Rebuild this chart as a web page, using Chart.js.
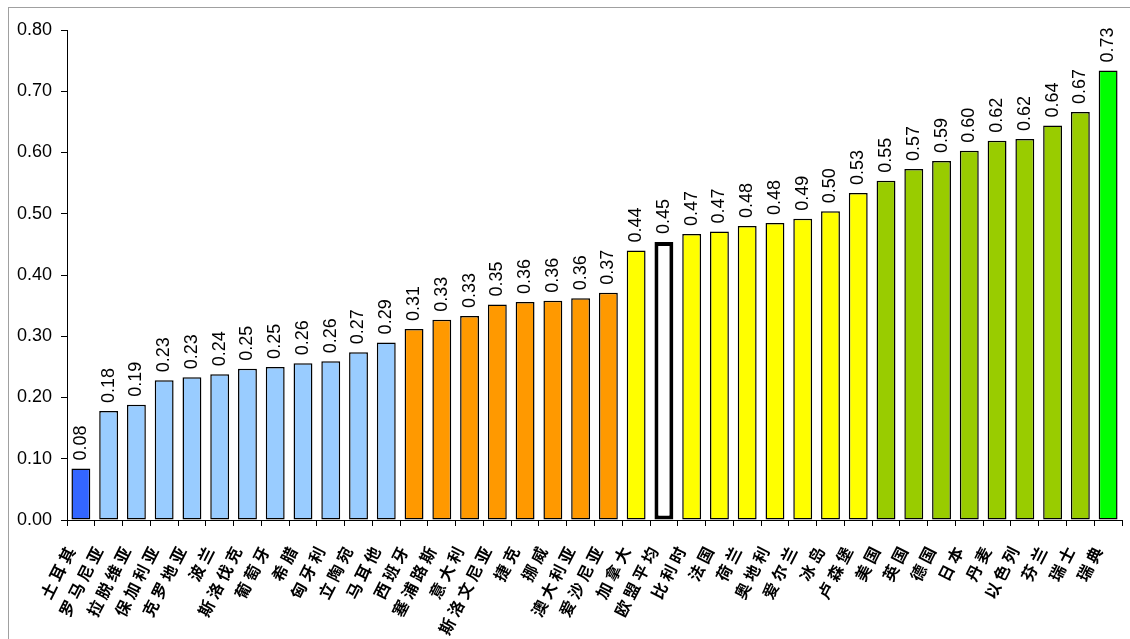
<!DOCTYPE html>
<html>
<head>
<meta charset="utf-8">
<script src="https://cdn.jsdelivr.net/npm/chart.js@4.4.0/dist/chart.umd.min.js"></script>
<style>
  html, body { margin: 0; padding: 0; background: #fff; }
  #frame {
    position: absolute; left: 8px; top: 7px;
    width: 1121px; height: 640px;
    border: 1px solid #a0a0a0;
    background: #fff;
  }
  #wrap { position: absolute; left: 0; top: 0; width: 1121px; height: 631px; }
</style>
</head>
<body>
<div id="frame"><div id="wrap"><canvas id="chart"></canvas></div></div>
<script>
// categories (countries)
const countries = [
    '土耳其', '罗马尼亚', '拉脱维亚', '保加利亚', '克罗地亚', '波兰', '斯洛伐克', '葡萄牙',
    '希腊', '匈牙利', '立陶宛', '马耳他', '西班牙', '塞浦路斯', '意大利', '斯洛文尼亚',
    '捷克', '挪威', '澳大利亚', '爱沙尼亚', '加拿大', '欧盟平均', '比利时', '法国',
    '荷兰', '奥地利', '爱尔兰', '冰岛', '卢森堡', '美国', '英国', '德国',
    '日本', '丹麦', '以色列', '芬兰', '瑞士', '瑞典'
];

// values
const values = [
    0.084, 0.178, 0.188, 0.228, 0.233, 0.238, 0.247, 0.250,
    0.256, 0.259, 0.274, 0.290, 0.312, 0.327, 0.333, 0.352,
    0.356, 0.358, 0.362, 0.371, 0.440, 0.454, 0.467, 0.471,
    0.480, 0.485, 0.492, 0.504, 0.534, 0.554, 0.573, 0.586,
    0.603, 0.619, 0.622, 0.644, 0.666, 0.734
];

// colour group of each bar
const groups = [
    'first', 'low', 'low', 'low', 'low', 'low', 'low', 'low',
    'low', 'low', 'low', 'low', 'mid', 'mid', 'mid', 'mid',
    'mid', 'mid', 'mid', 'mid', 'upper', 'avg', 'upper', 'upper',
    'upper', 'upper', 'upper', 'upper', 'upper', 'high', 'high', 'high',
    'high', 'high', 'high', 'high', 'high', 'top'
];

// y axis ticks
const yTicks = [0, 0.1, 0.2, 0.3, 0.4, 0.5, 0.6, 0.7, 0.8];

const groupColors = {
    first: '#3366FF',
    low: '#99CCFF',
    mid: '#FF9900',
    upper: '#FFFF00',
    avg: '#FFFFFF',
    high: '#99CC00',
    top: '#00FF00'
};

// vertical value labels above the bars
const valueLabels = {
    id: 'valueLabels',
    afterDatasetsDraw(chart) {
        const ctx = chart.ctx;
        const meta = chart.getDatasetMeta(0);
        ctx.save();
        ctx.fillStyle = '#000';
        ctx.font = '18px "Liberation Sans", Arial, sans-serif';
        ctx.textAlign = 'left';
        ctx.textBaseline = 'middle';
        meta.data.forEach((bar, i) => {
            ctx.save();
            ctx.translate(bar.x, bar.y - 8);
            ctx.rotate(-Math.PI / 2);
            ctx.fillText(values[i].toFixed(2), 0, 0);
            ctx.restore();
        });
        ctx.restore();
    }
};

// slanted category labels, one glyph at a time so the spacing matches
const categoryLabels = {
    id: 'categoryLabels',
    afterDraw(chart) {
        const ctx = chart.ctx;
        const xScale = chart.scales.x;
        const angle = 63 * Math.PI / 180;
        const step = 20;
        const dx = Math.cos(angle), dy = -Math.sin(angle);
        ctx.save();
        ctx.fillStyle = '#000';
        ctx.font = 'bold 16px "Noto Sans CJK SC", sans-serif';
        ctx.textAlign = 'center';
        ctx.textBaseline = 'middle';
        countries.forEach((name, i) => {
            const endX = xScale.getPixelForTick(i) - 14;
            const endY = xScale.top + 35;
            const chars = Array.from(name);
            chars.forEach((ch, k) => {
                const back = (chars.length - 1 - k) * step;
                ctx.save();
                ctx.translate(endX - back * dx, endY - back * dy);
                ctx.rotate(-angle);
                ctx.fillText(ch, 0, 0);
                ctx.restore();
            });
        });
        ctx.restore();
    }
};

const ctx = document.getElementById('chart').getContext('2d');
new Chart(ctx, {
    type: 'bar',
    data: {
        labels: countries,
        datasets: [{
            data: values,
            backgroundColor: groups.map(g => groupColors[g]),
            borderColor: '#000',
            borderWidth: groups.map(g => g === 'avg' ? 4 : 1.5),
            borderSkipped: false,
            categoryPercentage: 1.0,
            barPercentage: 0.68
        }]
    },
    options: {
        responsive: true,
        maintainAspectRatio: false,
        animation: false,
        layout: { padding: { left: 0, top: 22, right: 8, bottom: 0 } },
        plugins: {
            legend: { display: false },
            tooltip: { enabled: false }
        },
        scales: {
            x: {
                grid: { offset: true, drawOnChartArea: false, drawTicks: true, tickLength: 6, color: '#000' },
                border: { color: '#000', width: 1 },
                ticks: { display: false, autoSkip: false },
                afterFit(scale) { scale.height = 119; }
            },
            y: {
                min: 0,
                max: 0.8,
                grid: { drawOnChartArea: false, drawTicks: true, tickLength: 6, color: '#000' },
                border: { color: '#000', width: 1 },
                afterBuildTicks(scale) { scale.ticks = yTicks.map(v => ({ value: v })); },
                ticks: {
                    color: '#000',
                    padding: 9,
                    font: { family: '"Liberation Sans", Arial, sans-serif', size: 18 },
                    callback: v => v.toFixed(2)
                },
                afterFit(scale) { scale.width = 58; }
            }
        }
    },
    plugins: [valueLabels, categoryLabels]
});
</script>
</body>
</html>
